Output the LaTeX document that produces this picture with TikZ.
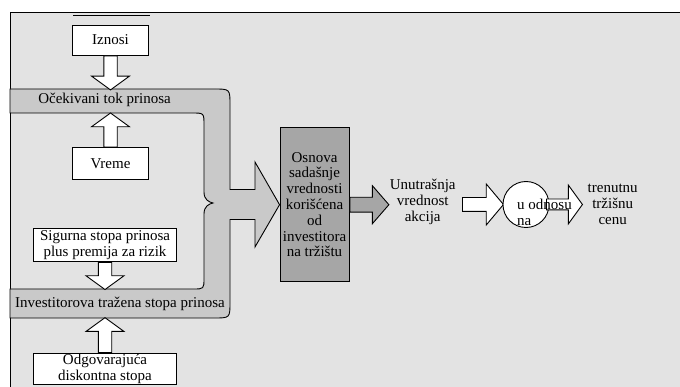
\documentclass[tikz,border=0pt]{standalone}
\usepackage{fontspec}
\setmainfont{Liberation Serif}
\usetikzlibrary{shapes,arrows,positioning,calc}
\definecolor{panel}{gray}{0.89}
\definecolor{bandgray}{gray}{0.79}
\definecolor{coregray}{gray}{0.65}
\tikzset{
  card/.style={rectangle, draw, fill=white, line width=0.9pt, inner sep=0pt,
               align=center, minimum width=#1},
  core/.style={rectangle, draw, fill=coregray, line width=0.9pt, inner sep=0pt,
               align=center, minimum width=69pt, minimum height=154pt},
  plain/.style={align=center, inner sep=0pt},
  barrow/.style={single arrow, draw, fill=#1, line width=0.9pt, inner xsep=0pt,
                 inner ysep=6.25pt, single arrow head extend=12.25pt,
                 single arrow tip angle=108, anchor=tail},
  varrow/.style={barrow=white, inner xsep=6.25pt, inner ysep=0pt},
  ring/.style={circle, draw, fill=white, line width=0.9pt, minimum size=46pt,
               inner sep=0pt},
}

\begin{document}
\begin{tikzpicture}[x=1pt, y=-1pt, font=\fontsize{15}{15.8}\selectfont]

\useasboundingbox (0,0) rectangle (680,387);
\clip (0,0) rectangle (680,387);

% -------------------- Frame --------------------
\draw[fill=panel, line width=0.9pt] (10,12) rectangle (700,400);
\draw[line width=0.9pt] (73,15) -- (150,15);

% -------------------- Present value box --------------------
\node[core] (osnova) at (314.5,204.7)
    {Osnova\\sadašnje\\vrednosti\\korišćena\\od\\investitora\\na tržištu};

% -------------------- Band with brace and big arrow --------------------
\draw[fill=bandgray, line width=0.9pt]
  (10,89) -- (214,89) .. controls (230,89) .. (230,105)
  -- (230,189.5) -- (255,189.5) -- (255,162) -- (osnova.west)
  -- (255,247) -- (255,219.5) -- (230,219.5)
  -- (230,302) .. controls (230,318) .. (214,318) -- (10,318) -- (10,289)
  -- (193,289) .. controls (204,289) .. (204,278)
  -- (204,214) .. controls (204,206) and (209,204) .. (213,203)
  .. controls (209,202) and (204,200) .. (204,192)
  -- (204,125) .. controls (204,113) .. (192,113) -- (10,113) -- cycle;

\node[plain] (tok) at (104.5,99.5) {Očekivani tok prinosa};
\node[plain] (trazena) at (120,304) {Investitorova tražena stopa prinosa};

% -------------------- Inputs --------------------
\node[card=75.6pt, minimum height=30pt] (iznosi) at (110.5,40) {Iznosi};
\node[card=75.6pt, minimum height=31.6pt, below=92pt of iznosi] (vreme) {Vreme};
\node[card=143.4pt, minimum height=32.7pt] (sigurna) at (105,245.3)
    {Sigurna stopa prinosa\\plus premija za rizik};
\node[card=143.4pt, minimum height=31.3pt, below=91pt of sigurna] (odg)
    {Odgovarajuća\\diskontna stopa};

\node[varrow, shape border rotate=270, minimum height=34pt] (a1) at (iznosi.south) {};
\node[varrow, shape border rotate=90, minimum height=34pt] (a2) at (vreme.north) {};
\node[varrow, shape border rotate=270, minimum height=27pt] (a3) at (sigurna.south) {};
\node[varrow, shape border rotate=90, minimum height=35pt] (a4) at (odg.north) {};

% -------------------- Right part --------------------
\node[barrow=coregray, minimum height=39pt, inner ysep=7pt,
      single arrow head extend=11.5pt, single arrow tip angle=98] (a5) at (osnova.east) {};
\node[plain] (unut) at (422.7,201.7) {Unutrašnja\\vrednost\\akcija};

\node[barrow=white, minimum height=41pt, inner ysep=6.5pt,
      single arrow head extend=13.5pt, single arrow tip angle=100] (a6) at (462,204.5) {};
\node[ring] (odnos) at (526,204.5) {};
\node[barrow=white, minimum height=36pt, inner ysep=5pt,
      single arrow head extend=14pt, single arrow tip angle=108] (a7)
      at ($(odnos.center)+(20,0)$) {};
\node[plain, align=left, anchor=west] (odnostxt) at (517,212) {u odnosu\\na};

\node[plain] (cena) at (612.7,204.5) {trenutnu\\tržišnu\\cenu};

\end{tikzpicture}
\end{document}
